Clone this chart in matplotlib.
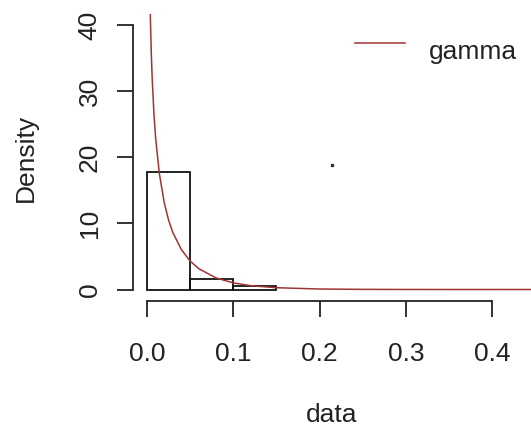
import matplotlib
matplotlib.use("Agg")
import matplotlib.pyplot as plt

plt.rcParams['font.family'] = ['Liberation Sans', 'DejaVu Sans']
plt.rcParams['font.size'] = 19

# histogram (density scale), bins of width 0.05
bin_left = [0.0, 0.05, 0.10]
density = [17.8, 1.6, 0.6]

# fitted gamma density
curve_x = [0.003, 0.004, 0.005, 0.006, 0.008, 0.010, 0.0142, 0.020, 0.025, 0.030,
           0.040, 0.050, 0.060, 0.080, 0.100, 0.120, 0.150, 0.200, 0.250, 0.300,
           0.350, 0.450]
curve_y = [47.6, 40.5, 35.6, 31.9, 26.6, 22.9, 17.6, 13.1, 10.5, 8.6,
           6.0, 4.3, 3.15, 1.75, 1.0, 0.58, 0.27, 0.075, 0.022, 0.006,
           0.002, 0.0]

xticks = [0.0, 0.1, 0.2, 0.3, 0.4]
yticks = [0, 10, 20, 30, 40]

fig = plt.figure(figsize=(5.31, 4.32), dpi=100)
ax = fig.add_axes([0.2505, 0.3032, 0.7495, 0.6635])

ax.bar(bin_left, density, width=0.05, align='edge', fill=False,
       edgecolor='#111111', linewidth=1.3)
ax.plot(curve_x, curve_y, color='#9E3535', linewidth=1.1)
ax.plot([0.214], [18.9], marker='s', markersize=1.8, color='#333333', linestyle='none')

ax.set_xlim(-0.01623, 0.4452)
ax.set_ylim(-1.74, 41.6)

for s in ['top', 'right']:
    ax.spines[s].set_visible(False)
ax.spines['left'].set_bounds(0, 40)
ax.spines['bottom'].set_bounds(0, 0.4)
ax.spines['left'].set_linewidth(1.3)
ax.spines['bottom'].set_linewidth(1.3)
ax.spines['left'].set_color('#222222')
ax.spines['bottom'].set_color('#222222')

ax.set_xticks(xticks)
ax.set_xticklabels(['%.1f' % t for t in xticks])
ax.set_yticks(yticks)
ax.set_yticklabels([str(t) for t in yticks], rotation=90, va='center')
ax.tick_params(axis='both', length=11.5, width=1.3, color='#222222', labelcolor='#222222')
ax.tick_params(axis='x', pad=18)
ax.tick_params(axis='y', pad=11)

ax.set_xlabel('data', color='#222222', labelpad=27)
ax.set_ylabel('Density', color='#222222', labelpad=29)

# legend drawn like R's legend(): sample line + label, no box
ax.plot([0.5578, 0.6834], [0.8985, 0.8985], color='#9E3535', linewidth=1.1,
        transform=ax.transAxes, clip_on=False)
ax.text(0.7437, 0.845, 'gamma', color='#222222', transform=ax.transAxes,
        ha='left', va='baseline')

fig.savefig('out.png', dpi=100)
